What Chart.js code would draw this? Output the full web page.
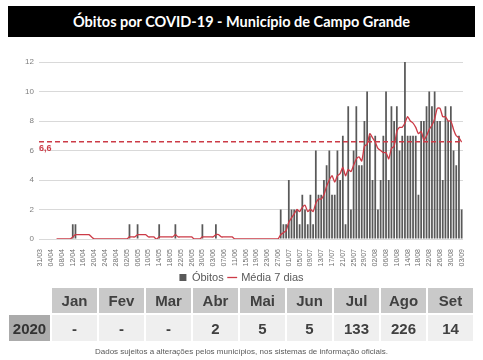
<!DOCTYPE html>
<html><head><meta charset="utf-8">
<script src="https://cdn.jsdelivr.net/npm/chart.js@4"></script>
<style>
html,body{margin:0;padding:0;background:#fff;width:483px;height:360px;overflow:hidden;font-family:"Liberation Sans",Arial,sans-serif;}
#title{position:absolute;left:8px;top:6px;width:467px;height:31px;background:#000;color:#fff;font-family:Lato,"Noto Sans",sans-serif;font-weight:bold;font-size:14.5px;line-height:31px;text-align:center;white-space:nowrap;}
#wrap{position:absolute;left:0;top:40px;width:483px;height:253px;}
#tbl{position:absolute;left:7px;top:286px;border-collapse:separate;border-spacing:2px;}
#tbl td{padding:0;text-align:center;font-weight:bold;color:#404040;font-size:15px;}
#tbl tr.h td{height:25px;background:#c9c9c9;}
#tbl tr.d td{height:26px;background:#efefef;}
#tbl td.c0{width:41px;}
#tbl td.m{width:45px;}
#tbl tr.h td.c0{background:#fff;}
#tbl tr.d td.c0{background:#ababab;color:#333;}
#foot{position:absolute;left:0;top:347px;width:483px;text-align:center;font-size:8px;color:#595959;}
</style></head>
<body>
<div id="title">Óbitos por COVID-19 - Município de Campo Grande</div>
<div id="wrap"><canvas id="c"></canvas></div>
<table id="tbl"><tr class="h" id="rh"></tr><tr class="d" id="rd"></tr></table>
<div id="foot">Dados sujeitos a alterações pelos municípios, nos sistemas de informação oficiais.</div>
<script>
const dates = ["31/03",
"01/04","02/04","03/04","04/04","05/04","06/04","07/04","08/04","09/04","10/04","11/04","12/04","13/04","14/04","15/04","16/04","17/04","18/04","19/04","20/04","21/04","22/04","23/04","24/04","25/04","26/04","27/04","28/04","29/04","30/04",
"01/05","02/05","03/05","04/05","05/05","06/05","07/05","08/05","09/05","10/05","11/05","12/05","13/05","14/05","15/05","16/05","17/05","18/05","19/05","20/05","21/05","22/05","23/05","24/05","25/05","26/05","27/05","28/05","29/05","30/05","31/05",
"01/06","02/06","03/06","04/06","05/06","06/06","07/06","08/06","09/06","10/06","11/06","12/06","13/06","14/06","15/06","16/06","17/06","18/06","19/06","20/06","21/06","22/06","23/06","24/06","25/06","26/06","27/06","28/06","29/06","30/06",
"01/07","02/07","03/07","04/07","05/07","06/07","07/07","08/07","09/07","10/07","11/07","12/07","13/07","14/07","15/07","16/07","17/07","18/07","19/07","20/07","21/07","22/07","23/07","24/07","25/07","26/07","27/07","28/07","29/07","30/07","31/07",
"01/08","02/08","03/08","04/08","05/08","06/08","07/08","08/08","09/08","10/08","11/08","12/08","13/08","14/08","15/08","16/08","17/08","18/08","19/08","20/08","21/08","22/08","23/08","24/08","25/08","26/08","27/08","28/08","29/08","30/08","31/08",
"01/09","02/09","03/09"];

const obitos = [0,
0,0,0,0,0,0,0,0,0,0,0,1,1,0,0,0,0,0,0,0,0,0,0,0,0,0,0,0,0,0,
0,0,1,0,0,1,0,0,0,0,0,0,0,1,0,0,0,0,0,1,0,0,0,0,0,0,0,0,0,1,0,
0,0,0,1,0,0,0,0,0,0,0,0,0,0,0,0,0,0,0,0,0,0,0,0,0,0,0,2,1,1,
4,2,2,2,1,3,2,1,3,1,6,3,3,4,5,6,3,3,6,4,7,1,9,2,6,9,5,5,8,10,7,
4,7,2,4,7,10,4,9,8,9,6,7,12,7,7,7,7,3,8,8,9,10,9,10,8,8,4,9,8,9,6,
5,7,2];

const media7 = [null,
null,null,null,null,null,0,0,0,0,0,0,0.14,0.29,0.29,0.29,0.29,0.29,0.29,0.14,0,0,0,0,0,0,0,0,0,0,0,
0,0,0.14,0.14,0.14,0.29,0.29,0.29,0.29,0.14,0.14,0.14,0,0.14,0.14,0.14,0.14,0.14,0.14,0.29,0.14,0.14,0.14,0.14,0.14,0.14,0,0,0,0.14,0.14,
0.14,0.14,0.14,0.29,0.29,0.14,0.14,0.14,0.14,0.14,0,0,0,0,0,0,0,0,0,0,0,0,0,0,0,0,0,0.29,0.43,0.57,
1.14,1.43,1.71,2,1.86,2.14,2.29,1.86,2,1.86,2.43,2.71,2.71,3,3.57,4,4.29,3.86,4.29,4.43,4.86,4.29,4.71,4.57,5,5.43,5.57,5.29,6.29,6.43,7.14,
6.86,6.57,6.14,6,5.86,5.86,5.43,6.14,6.29,7.29,7.57,7.57,7.86,8.29,8,7.86,7.57,7.14,7.29,6.71,7,7.43,7.71,8.14,8.86,8.86,8.29,8.29,8,8,7.43,
7,6.86,6.57];

const refValue = 6.6;
const refLabel = "6,6";
const yTicks = [0,2,4,6,8,10,12];

const months = ["Jan","Fev","Mar","Abr","Mai","Jun","Jul","Ago","Set"];
const monthTotals = ["-","-","-","2","5","5","133","226","14"];
const yearLabel = "2020";

// table
const rh = document.getElementById('rh'), rd = document.getElementById('rd');
rh.innerHTML = '<td class="c0"></td>' + months.map(m => '<td class="m">' + m + '</td>').join('');
rd.innerHTML = '<td class="c0">' + yearLabel + '</td>' + monthTotals.map(v => '<td class="m">' + v + '</td>').join('');

const RED = '#cc3b47';
const refLinePlugin = {
  id: 'refLine',
  afterDatasetsDraw(chart) {
    const ctx = chart.ctx, a = chart.chartArea, y = chart.scales.y;
    const yy = y.getPixelForValue(refValue);
    ctx.save();
    ctx.strokeStyle = RED; ctx.lineWidth = 1.5; ctx.setLineDash([5, 3]);
    ctx.beginPath(); ctx.moveTo(a.left, yy); ctx.lineTo(a.right, yy); ctx.stroke();
    ctx.setLineDash([]);
    ctx.fillStyle = RED; ctx.font = 'bold 9px "Liberation Sans", Arial';
    ctx.textBaseline = 'top'; ctx.textAlign = 'left';
    ctx.fillText(refLabel, a.left, yy + 2);
    ctx.restore();
  }
};

new Chart(document.getElementById('c'), {
  data: {
    labels: dates,
    datasets: [
      { type: 'line', label: 'Média 7 dias', data: media7, borderColor: RED, backgroundColor: RED,
        borderWidth: 1.3, pointRadius: 0, tension: 0.2, pointStyle: 'line', order: 0 },
      { type: 'bar', label: 'Óbitos', data: obitos, backgroundColor: '#595959', borderWidth: 0,
        barPercentage: 0.65, categoryPercentage: 1, pointStyle: 'rect', order: 1 }
    ]
  },
  options: {
    responsive: true, maintainAspectRatio: false, animation: false,
    layout: { padding: { left: 0, right: 0, top: 22, bottom: 0 } },
    plugins: {
      legend: { position: 'bottom', reverse: true,
        labels: { usePointStyle: true, boxHeight: 7, boxWidth: 7, padding: 5, color: '#595959',
          font: { family: '"Liberation Sans", Arial', size: 11 } } },
      tooltip: { enabled: false }
    },
    scales: {
      x: {
        grid: { display: false }, border: { display: false },
        ticks: { autoSkip: false, maxRotation: 90, minRotation: 90, padding: 2, color: '#6f6f6f',
          font: { family: '"Liberation Sans", Arial', size: 7 } ,
          callback: (v, i) => (i % 4 === 0 ? dates[i] : '') },
        afterFit: s => { s.height = 28; }
      },
      y: {
        min: 0, max: 12,
        afterBuildTicks: s => { s.ticks = yTicks.map(v => ({ value: v })); },
        grid: { color: '#d9d9d9', drawTicks: false }, border: { display: false },
        ticks: { padding: 5, color: '#7f7f7f', font: { family: '"Liberation Sans", Arial', size: 8 } },
        afterFit: s => { s.width = 39; }
      },
      yRight: {
        position: 'right', display: true, min: 0, max: 12,
        grid: { drawOnChartArea: false, drawTicks: false }, border: { display: false },
        ticks: { display: false },
        afterFit: s => { s.width = 20; }
      }
    }
  },
  plugins: [refLinePlugin]
});
</script>
</body></html>
